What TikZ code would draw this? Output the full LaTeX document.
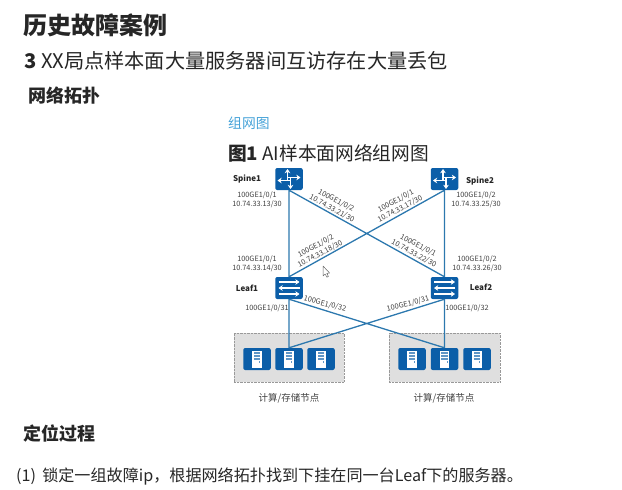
\documentclass[tikz,border=0pt]{standalone}
\usepackage{fontspec}
\setmainfont{Noto Sans CJK SC}
\usetikzlibrary{arrows.meta, positioning, fit, backgrounds}
\definecolor{iconblue}{HTML}{0B5EA8}
\definecolor{linkblue}{HTML}{2C78AE}
\definecolor{headblue}{HTML}{45A2D8}
\definecolor{inktext}{HTML}{262626}
\definecolor{portgray}{HTML}{404040}
\tikzset{
  devbox/.style={rectangle, fill=iconblue, rounded corners=2pt, inner sep=0pt,
                 minimum width=27.5pt, minimum height=22pt},
  srvbox/.style={devbox, minimum width=27.5pt},
  rack/.style={rectangle, draw=gray!80, densely dotted, fill=gray!25, inner xsep=9pt, inner ysep=13.5pt},
  link/.style={draw=linkblue, line width=1.3pt},
  glyph/.style={white, line width=1.3pt, -{Stealth[length=4.2pt, width=5.6pt]}},
  head/.style={anchor=west, text=inktext, inner sep=0pt},
  port/.style={align=center, font=\fontsize{7.3}{9}\selectfont, text=portgray, inner sep=0pt},
  devname/.style={font=\fontsize{8}{9}\selectfont\bfseries, text=inktext, inner sep=0pt},
  caption/.style={font=\fontsize{9.5}{11}\selectfont, text=portgray, inner sep=0pt},
}
\begin{document}
\begin{tikzpicture}[x=1pt, y=-1pt, on grid]
  \useasboundingbox (0,0) rectangle (622,490);
  % headings
  \node[head, font=\fontsize{24}{26}\selectfont\bfseries] (title) at (23,25) {历史故障案例};
  \node[head, font=\fontsize{20.2}{24}\selectfont] (case) at (24,61) {\textbf{3} XX局点样本面大量服务器间互访存在大量丢包};
  \node[head, font=\fontsize{18}{20}\selectfont\bfseries] (topo) at (28,96) {网络拓扑};
  \node[head, text=headblue, font=\fontsize{13.8}{16}\selectfont] (sub) at (228,123) {组网图};
  \node[head, font=\fontsize{18.7}{22}\selectfont] (fig) at (228,153) {\textbf{图1} AI样本面网络组网图};
  \node[head, font=\fontsize{18}{20}\selectfont\bfseries] (locate) at (23,434) {定位过程};
  \node[head, font=\fontsize{16.1}{20}\selectfont] (step) at (16,476) {(1)\, 锁定一组故障ip，根据网络拓扑找到下挂在同一台Leaf下的服务器。};

  % devices
  \node[devbox] (spine1) at (289,179) {};
  \node[devbox] (spine2) [right=155.5pt of spine1] {};
  \node[devbox] (leaf1)  [below=109pt of spine1] {};
  \node[devbox] (leaf2)  [right=155.5pt of leaf1] {};
  \node[srvbox] (srvA2)  [below=71pt of leaf1] {};
  \node[srvbox] (srvA1)  [left=32pt of srvA2] {};
  \node[srvbox] (srvA3)  [right=32pt of srvA2] {};
  \node[srvbox] (srvB2)  [below=71pt of leaf2] {};
  \node[srvbox] (srvB1)  [left=32.5pt of srvB2] {};
  \node[srvbox] (srvB3)  [right=32.5pt of srvB2] {};
  \begin{scope}[on background layer]
    \node[rack, fit=(srvA1)(srvA3), yshift=1.5pt] (rackA) {};
    \node[rack, fit=(srvB1)(srvB3), yshift=1.5pt] (rackB) {};
  \end{scope}

  % links
  \path[link]
    (spine1.south) -- (leaf1.north)
    (spine1.south) -- (leaf2.north)
    (spine2.south) -- (leaf1.north)
    (spine2.south) -- (leaf2.north)
    (leaf1.south) -- (srvA2.north)
    (leaf1.south) -- (srvB2.north)
    (leaf2.south) -- (srvA2.north)
    (leaf2.south) -- (srvB2.north);

  % spine glyphs
  \foreach \dev in {spine1, spine2} {
    \begin{scope}[shift={(\dev.center)}]
      \draw[glyph] (-1.5,1) -- (-1.5,-10);
      \draw[glyph] (1.5,-1) -- (1.5,10);
      \draw[glyph] (1.5,1.5) -- (-11.5,1.5);
      \draw[glyph] (-1.5,-1.5) -- (11.5,-1.5);
    \end{scope}
  }
  % leaf glyphs
  \foreach \dev in {leaf1, leaf2} {
    \begin{scope}[shift={(\dev.center)}]
      \draw[glyph] (-10.5,-6) -- (10.5,-6);
      \draw[glyph] (10.5,0) -- (-10.5,0);
      \draw[glyph] (-10.5,6) -- (10.5,6);
    \end{scope}
  }
  % server glyphs
  \foreach \dev in {srvA1, srvA2, srvA3, srvB1, srvB2, srvB3} {
    \begin{scope}[shift={(\dev.center)}]
      \fill[white] (-4.7,-8.5) rectangle (4.7,9);
      \fill[iconblue!65!white] (-3.2,-7) rectangle (3.2,-5.5);
      \fill[iconblue!65!white] (-3.2,-4) rectangle (3.2,-2.5);
      \fill[iconblue!65!white] (-3.2,-1) rectangle (3.2,0.5);
      \fill[iconblue!65!white] (2,2) rectangle (3.2,3.5);
    \end{scope}
  }

  % device names
  \node[devname] (nameS1) at (247,179) {Spine1};
  \node[devname] (nameS2) at (480,181) {Spine2};
  \node[devname] (nameL1) at (247,288) {Leaf1};
  \node[devname] (nameL2) at (481,287) {Leaf2};

  % port labels
  \node[port] (p13) at (257,200) {100GE1/0/1\\10.74.33.13/30};
  \node[port] (p25) at (476,200) {100GE1/0/2\\10.74.33.25/30};
  \node[port] (p14) at (257,264) {100GE1/0/1\\10.74.33.14/30};
  \node[port] (p26) at (477,264) {100GE1/0/2\\10.74.33.26/30};
  \node[port, rotate=-28] (p21) at (334,204.5) {100GE1/0/2\\10.74.33.21/30};
  \node[port, rotate=28]  (p17) at (398,205) {100GE1/0/1\\10.74.33.17/30};
  \node[port, rotate=28]  (p18) at (318,250) {100GE1/0/2\\10.74.33.18/30};
  \node[port, rotate=-28] (p22) at (416,249.5) {100GE1/0/1\\10.74.33.22/30};
  \node[port] (d1) at (267,308) {100GE1/0/31};
  \node[port, rotate=-14] (d2) at (325,304) {100GE1/0/32};
  \node[port, rotate=14]  (d3) at (408,304) {100GE1/0/31};
  \node[port] (d4) at (467,308) {100GE1/0/32};

  \node[caption] (capA) at (289,398) {计算/存储节点};
  \node[caption] (capB) at (444,398) {计算/存储节点};

  % pointer
  \draw[draw=gray!80!black, fill=white, line width=0.5pt, line join=round]
    (323,266) -- (323,276) -- (325.2,274) -- (326.8,277.2) -- (328.4,276.4) -- (326.8,273.4) -- (329.6,273) -- cycle;
\end{tikzpicture}
\end{document}
